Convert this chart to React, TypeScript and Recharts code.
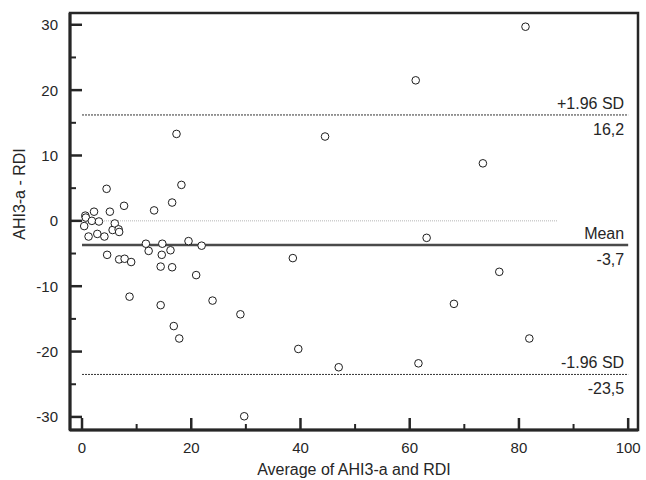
import { ScatterChart, Scatter, XAxis, YAxis, ReferenceLine, ReferenceArea } from "recharts";

const FONT = "'Liberation Sans', Arial, Helvetica, sans-serif";
const INK = "#262626";

// average of the two methods (x) and their difference (y)
const avgValues = [
  0.6, 0.7, 0.4, 1.2, 1.8, 2.2, 2.8, 3.1, 4.1, 4.5, 4.6, 5.1, 5.6, 6.0, 6.7, 6.8, 6.8, 7.7,
  7.8, 8.7, 9.0, 11.7, 12.2, 13.2, 14.4, 14.4, 14.6, 14.7, 16.2, 16.5, 16.5, 16.8, 17.3,
  17.8, 18.2, 19.5, 20.9, 21.9, 23.9, 29.0, 29.7, 38.6, 39.6, 44.5, 47.0, 61.1, 61.6, 63.1,
  68.1, 73.4, 76.4, 81.2, 81.9,
];
const diffValues = [
  0.8, 0.5, -0.8, -2.4, 0.0, 1.4, -2.0, -0.1, -2.4, 4.9, -5.2, 1.4, -1.4, -0.4, -1.3, -1.7,
  -5.9, 2.3, -5.8, -11.6, -6.3, -3.5, -4.6, 1.6, -7.0, -12.9, -5.2, -3.5, -4.5, 2.8, -7.1,
  -16.1, 13.3, -18.0, 5.5, -3.1, -8.3, -3.8, -12.2, -14.3, -29.9, -5.7, -19.6, 12.9, -22.4,
  21.5, -21.8, -2.6, -12.7, 8.8, -7.8, 29.7, -18.0,
];

const xTicks = [0, 10, 20, 30, 40, 50, 60, 70, 80, 90, 100];
const yTicks = [-30, -25, -20, -15, -10, -5, 0, 5, 10, 15, 20, 25, 30];
const X_DOMAIN = [-2.2, 101.8];
const Y_DOMAIN = [-32, 31.8];

const MEAN = -3.7;
const UPPER = 16.2;
const LOWER = -23.5;
const LINE_START = 0;
const LINE_END = 100;
const ZERO_END = 87;

const data = avgValues.map((x, i) => ({ x, y: diffValues[i] }));

function XTick(props: any) {
  const { x, y, payload } = props;
  const major = payload.value % 20 === 0;
  return (
    <g>
      <line x1={x} x2={x} y1={y} y2={y - (major ? 12 : 6)} stroke={INK} strokeWidth={major ? 2.5 : 2} />
      {major && (
        <text x={x} y={y + 23} textAnchor="middle" fontSize={15} fill={INK} fontFamily={FONT}>
          {payload.value}
        </text>
      )}
    </g>
  );
}

function YTick(props: any) {
  const { x, y, payload } = props;
  const major = payload.value % 10 === 0;
  return (
    <g>
      <line x1={x} x2={x + (major ? 12 : 6)} y1={y} y2={y} stroke={INK} strokeWidth={major ? 2.5 : 2} />
      {major && (
        <text x={x - 12} y={y + 5.5} textAnchor="end" fontSize={15} fill={INK} fontFamily={FONT}>
          {payload.value}
        </text>
      )}
    </g>
  );
}

function LineLabel(props: any) {
  const { viewBox, above, below } = props;
  if (!viewBox) return null;
  const right = viewBox.x + viewBox.width - 4;
  return (
    <g fontFamily={FONT} fontSize={16} fill={INK}>
      <text x={right} y={viewBox.y - 6} textAnchor="end">{above}</text>
      <text x={right} y={viewBox.y + 20} textAnchor="end">{below}</text>
    </g>
  );
}

const circle = (p: any) => (
  <circle cx={p.cx} cy={p.cy} r={3.8} fill="#fff" stroke="#1e1e1e" strokeWidth={1} />
);

export default function App() {
  return (
    <div style={{ position: "absolute", left: 0, top: 0, background: "#fff" }}>
      <ScatterChart width={646} height={480} margin={{ top: 13, right: 8, bottom: 10, left: 10 }}>
        <XAxis
          type="number"
          dataKey="x"
          domain={X_DOMAIN}
          ticks={xTicks}
          allowDataOverflow
          height={40}
          tickSize={0}
          tickMargin={0}
          tickLine={false}
          axisLine={{ stroke: INK, strokeWidth: 3 }}
          tick={<XTick />}
          interval={0}
          label={{
            content: () => (
              <text x={354} y={475} textAnchor="middle" fontSize={16} fill={INK} fontFamily={FONT}>
                Average of AHI3-a and RDI
              </text>
            ),
          }}
        />
        <YAxis
          type="number"
          dataKey="y"
          domain={Y_DOMAIN}
          ticks={yTicks}
          allowDataOverflow
          width={60}
          tickSize={0}
          tickMargin={0}
          tickLine={false}
          axisLine={{ stroke: INK, strokeWidth: 3 }}
          tick={<YTick />}
          interval={0}
          label={{
            content: () => (
              <text
                transform="rotate(-90)"
                x={-194}
                y={25}
                textAnchor="middle"
                fontSize={16}
                fill={INK}
                fontFamily={FONT}
              >
                AHI3-a - RDI
              </text>
            ),
          }}
        />
        <ReferenceArea
          x1={X_DOMAIN[0]}
          x2={X_DOMAIN[1]}
          y1={Y_DOMAIN[0]}
          y2={Y_DOMAIN[1]}
          fill="none"
          fillOpacity={0}
          stroke={INK}
          strokeWidth={2.5}
        />
        <ReferenceLine
          segment={[{ x: LINE_START, y: 0 }, { x: ZERO_END, y: 0 }]}
          stroke="#b5b5b5"
          strokeWidth={1}
          strokeDasharray="1 1"
        />
        <ReferenceLine
          segment={[{ x: LINE_START, y: UPPER }, { x: LINE_END, y: UPPER }]}
          stroke="#333"
          strokeWidth={1}
          strokeDasharray="2 1"
          label={<LineLabel above="+1.96 SD" below="16,2" />}
        />
        <ReferenceLine
          segment={[{ x: LINE_START, y: MEAN }, { x: LINE_END, y: MEAN }]}
          stroke="#4a4a4a"
          strokeWidth={2.5}
          label={<LineLabel above="Mean" below="-3,7" />}
        />
        <ReferenceLine
          segment={[{ x: LINE_START, y: LOWER }, { x: LINE_END, y: LOWER }]}
          stroke="#333"
          strokeWidth={1}
          strokeDasharray="2 1"
          label={<LineLabel above="-1.96 SD" below="-23,5" />}
        />
        <Scatter data={data} shape={circle} isAnimationActive={false} />
      </ScatterChart>
    </div>
  );
}
